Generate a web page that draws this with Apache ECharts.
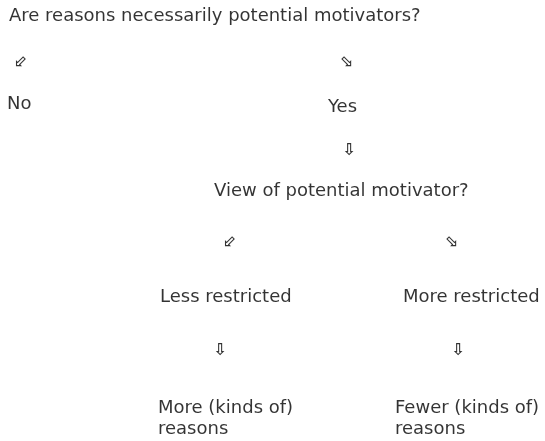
<!DOCTYPE html>
<html>
<head>
<meta charset="utf-8">
<script src="https://cdn.jsdelivr.net/npm/echarts@6/dist/echarts.min.js"></script>
<style>html,body{margin:0;padding:0;background:#fff}#c{width:545px;height:441px}</style>
</head>
<body>
<div id="c"></div>
<script>
// Diagram text nodes
const nodeLabels = ['Are reasons necessarily potential motivators?', 'No', 'Yes', 'View of potential motivator?', 'Less restricted', 'More restricted', 'More (kinds of)\nreasons', 'Fewer (kinds of)\nreasons'];
const nodeX = [9, 7, 328, 214, 160, 403, 158, 395];
const nodeY = [16, 104, 107, 191, 297, 297, 419, 419];
// Arrow glyphs
const arrowGlyphs = ['\u2B03', '\u2B02', '\u21E9', '\u2B03', '\u2B02', '\u21E9', '\u21E9'];
const arrowX = [21, 346, 349, 230, 451, 220, 458];
const arrowY = [62, 62, 151, 242, 242, 351, 351];

const chart = echarts.init(document.getElementById('c'), null, {renderer: 'canvas'});
chart.setOption({
  animation: false,
  grid: {left: 0, right: 0, top: 0, bottom: 0},
  xAxis: {type: 'value', min: 0, max: 545, show: false},
  yAxis: {type: 'value', min: 0, max: 441, inverse: true, show: false},
  series: [
    {
      type: 'scatter', symbolSize: 0, silent: true,
      data: nodeLabels.map((t, i) => ({value: [nodeX[i], nodeY[i]], name: t})),
      label: {
        show: true, position: 'right', distance: 0,
        formatter: p => p.name,
        fontFamily: 'DejaVu Sans', fontSize: 18, color: '#000',
        align: 'left', verticalAlign: 'middle', lineHeight: 21
      }
    },
    {
      type: 'scatter', symbolSize: 0, silent: true,
      data: arrowGlyphs.map((t, i) => ({value: [arrowX[i], arrowY[i]], name: t})),
      label: {
        show: true, position: 'inside',
        formatter: p => p.name,
        fontFamily: 'DejaVu Sans', fontSize: 16, fontWeight: 'bold', color: '#000',
        align: 'center', verticalAlign: 'middle'
      }
    }
  ]
});
</script>
</body>
</html>
